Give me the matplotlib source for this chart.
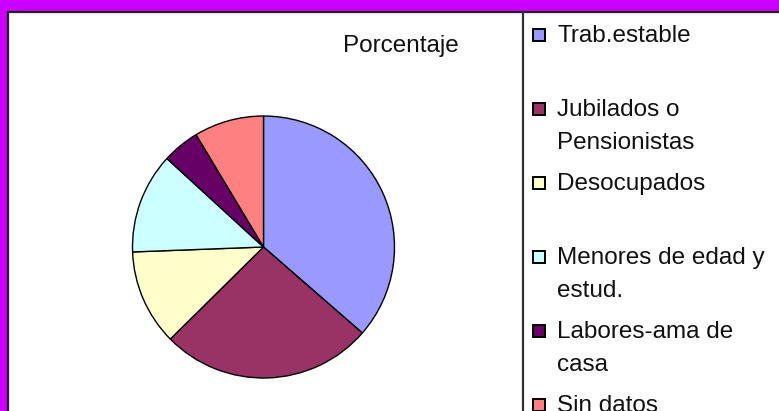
import matplotlib
matplotlib.use("Agg")
import matplotlib.pyplot as plt
from matplotlib.patches import Rectangle
from matplotlib.lines import Line2D

categories = ["Trab.estable", "Jubilados o\nPensionistas", "Desocupados",
              "Menores de edad y\nestud.", "Labores-ama de\ncasa", "Sin datos"]
values = [36.4, 26.2, 11.8, 12.4, 4.6, 8.6]
colors = ["#9999FF", "#993366", "#FFFFCC", "#CCFFFF", "#660066", "#FF8080"]
title = "Porcentaje"

W, H = 779, 411
fig = plt.figure(figsize=(W / 100, H / 100), dpi=100)
fig.patch.set_facecolor("#CC00FF")
plt.rcParams["font.family"] = ["Liberation Sans", "DejaVu Sans"]

def fx(px):
    return px / W

def fy(py):
    return 1 - py / H

# white chart panel
fig.patches.append(Rectangle((fx(8), fy(H + 20)), fx(W + 40), (H + 20 - 12) / H,
                             transform=fig.transFigure, facecolor="white",
                             edgecolor="#202020", linewidth=1.6, zorder=-10))
# separator line
fig.lines.append(Line2D([fx(523), fx(523)], [fy(12), fy(H + 5)], transform=fig.transFigure,
                        color="#303030", linewidth=1.6, zorder=2))

# pie
cx, cy, r = 263.5, 247, 131
ax = fig.add_axes([fx(cx - r), fy(cy + r), 2 * r / W, 2 * r / H])
ax.set_zorder(5)
ax.patch.set_visible(False)
ax.pie(values, colors=colors, startangle=90, counterclock=False,
       wedgeprops=dict(edgecolor="black", linewidth=1.0))
ax.set_xlim(-1, 1)
ax.set_ylim(-1, 1)
ax.set_aspect("auto")
ax.axis("off")

fig.text(fx(401), fy(46), title, ha="center", va="center", fontsize=17.5, color="#111111")

# legend
y0, step, line_h = 35, 74, 33
for i, (lab, col) in enumerate(zip(categories, colors)):
    yc = y0 + i * step
    fig.patches.append(Rectangle((fx(533), fy(yc + 6)), fx(12), 12 / H,
                                 transform=fig.transFigure, facecolor=col,
                                 edgecolor="black", linewidth=1.4, zorder=3))
    for j, line in enumerate(lab.split("\n")):
        fig.text(fx(557), fy(yc + j * line_h + 1), line, ha="left", va="center",
                 fontsize=17.5, color="#111111")

fig.savefig("out.png", dpi=100, facecolor=fig.get_facecolor())
